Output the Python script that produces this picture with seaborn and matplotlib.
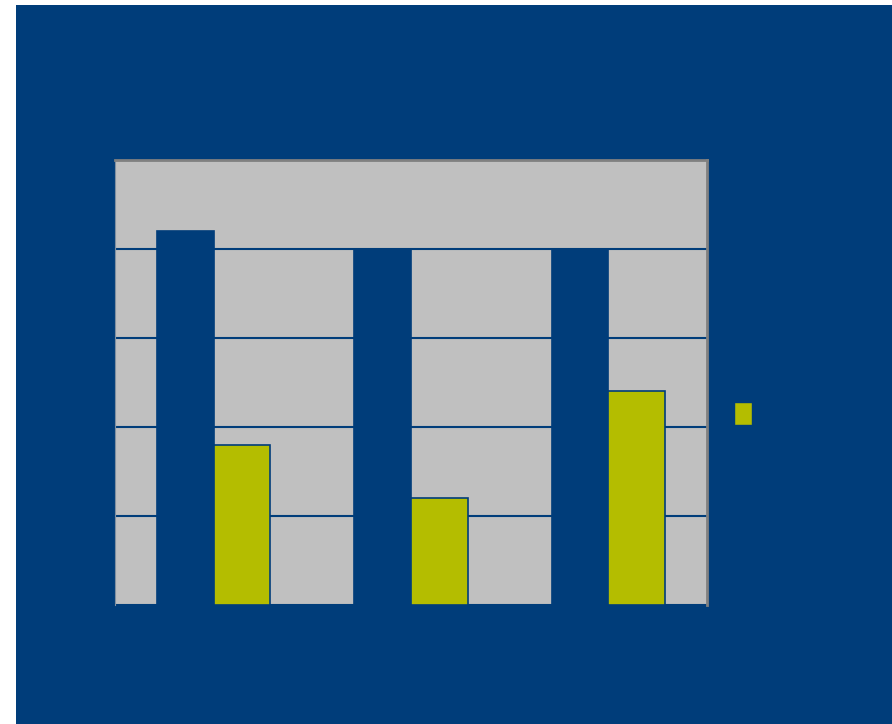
import matplotlib
matplotlib.use("Agg")
import matplotlib.pyplot as plt
import seaborn as sns
import pandas as pd
from matplotlib.patches import Rectangle, Patch

categories = ["A", "B", "C"]
series_names = ["Series 1", "Series 2"]
series1 = [4.2, 4.0, 4.0]
series2 = [1.8, 1.2, 2.4]

BLUE = "#003d7a"
YELLOW = "#b4bd00"
GRAY = "#c0c0c0"

df = pd.DataFrame({
    "cat": categories * 2,
    "value": series1 + series2,
    "series": [series_names[0]] * 3 + [series_names[1]] * 3,
})

sns.set_theme(style="white")
fig = plt.figure(figsize=(8.92, 7.24), dpi=100)
fig.patch.set_facecolor("white")
bg = Rectangle((16 / 892, 0), 1 - 16 / 892, (724 - 5) / 724,
               transform=fig.transFigure, facecolor=BLUE,
               edgecolor="none", zorder=-10)
fig.patches.append(bg)

ax = fig.add_axes([115 / 892, (724 - 605) / 724, (707 - 115) / 892, (605 - 160) / 724])
ax.set_zorder(5)
ax.set_facecolor(GRAY)
sns.barplot(data=df, x="cat", y="value", hue="series",
            palette=[BLUE, YELLOW], saturation=1, width=0.573, ax=ax,
            edgecolor=BLUE, linewidth=1.2, legend=False, zorder=3)
ax.set_ylim(0, 5)
ax.set_yticks([0, 1, 2, 3, 4, 5])
ax.yaxis.grid(True, color=BLUE, linewidth=1.5, zorder=1)
ax.set_axisbelow(True)
ax.tick_params(left=False, bottom=False, labelleft=False, labelbottom=False)
ax.set_xlabel("")
ax.set_ylabel("")
ax.spines["top"].set_color("#808080")
ax.spines["top"].set_linewidth(2)
ax.spines["right"].set_color("#808080")
ax.spines["right"].set_linewidth(2)
ax.spines["left"].set_color("#7f8fa0")
ax.spines["left"].set_linewidth(0.8)
ax.spines["bottom"].set_visible(False)

handles = [Patch(facecolor=BLUE, edgecolor=BLUE), Patch(facecolor=YELLOW, edgecolor=BLUE)]
leg = fig.legend(handles, ["", ""], loc="upper left",
                 bbox_to_anchor=(733.5 / 892, (724 - 371) / 724),
                 frameon=False, fontsize=10, handlelength=1.3, handleheight=2.16,
                 borderpad=0, borderaxespad=0, labelspacing=0.6, handletextpad=0.3)
leg.set_zorder(6)

fig.savefig("out.png", dpi=100, facecolor=fig.get_facecolor())
